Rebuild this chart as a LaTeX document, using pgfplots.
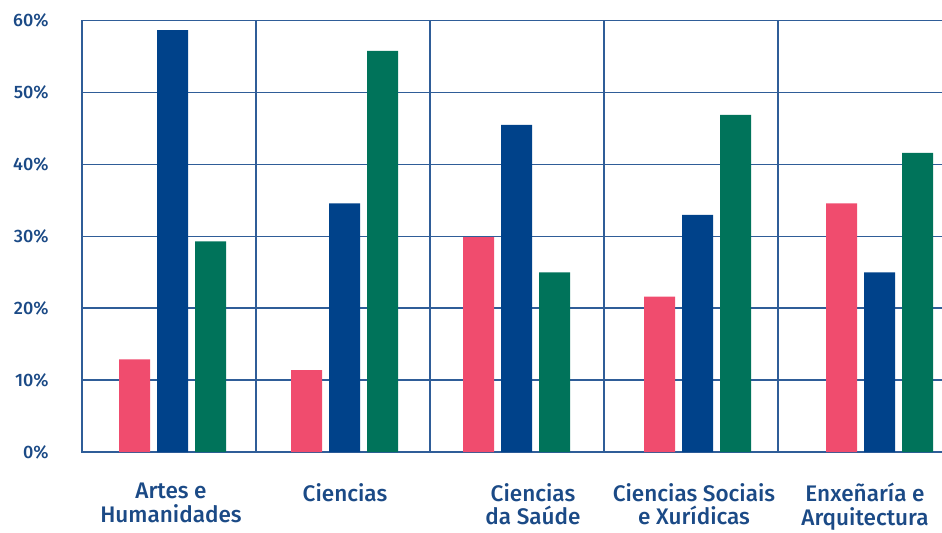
\documentclass[border=0pt]{standalone}
\usepackage{pgfplots}
\pgfplotsset{compat=1.18}
\usepackage{fontspec}
\setmainfont{Fira Sans}[UprightFont=* Medium]
\definecolor{cpink}{HTML}{F04C6E}
\definecolor{cblue}{HTML}{00428A}
\definecolor{cgreen}{HTML}{00735A}
\definecolor{cgrid}{HTML}{2F5D98}
\definecolor{ctext}{HTML}{1B4A86}
\begin{document}
\begin{tikzpicture}
\begin{axis}[
  at={(0,0)}, anchor=south west,
  scale only axis, width=652.5pt, height=323.5pt,
  xmin=82, xmax=952, ymin=0, ymax=60,
  axis line style={cgrid, line width=1.1pt},
  ytick={0,10,20,30,40,50,60},
  yticklabel={\pgfmathprintnumber{\tick}\%},
  /pgf/number format/assume math mode=true,
  yticklabel style={font=\fontsize{13.5}{15}\selectfont, text=ctext, xshift=-21.5pt},
  ymajorgrids, xmajorgrids,
  grid style={cgrid, line width=1.1pt},
  major tick length=0pt,
  xtick={256,430,604,778},
  xticklabels={},
  extra x ticks={171,345,533,694,865},
  extra x tick labels={Artes e\\Humanidades, Ciencias, Ciencias\\da Saúde, Ciencias Sociais\\e Xurídicas, Enxeñaría e\\Arquitectura},
  extra x tick style={grid=none, major tick length=0pt,
    xticklabel style={font=\fontsize{16.9}{17.6}\selectfont, text=ctext, align=center, anchor=north, yshift=-20pt}},
  ybar, bar width=31, bar shift=0pt,
  clip=false,
]
\addplot[fill=cpink, draw=none] coordinates {(134.5,12.9) (306.5,11.4) (478.5,29.9) (659.5,21.6) (841.5,34.6)};
\addplot[fill=cblue, draw=none] coordinates {(172.5,58.7) (344.5,34.6) (516.5,45.5) (697.5,33.0) (879.5,25.0)};
\addplot[fill=cgreen, draw=none] coordinates {(210.5,29.3) (382.5,55.8) (554.5,25.0) (735.5,46.9) (917.5,41.6)};
\end{axis}
\pgfresetboundingbox
\path[use as bounding box] (-61.5pt,-60pt) rectangle (645pt,339pt);
\end{tikzpicture}
\end{document}
